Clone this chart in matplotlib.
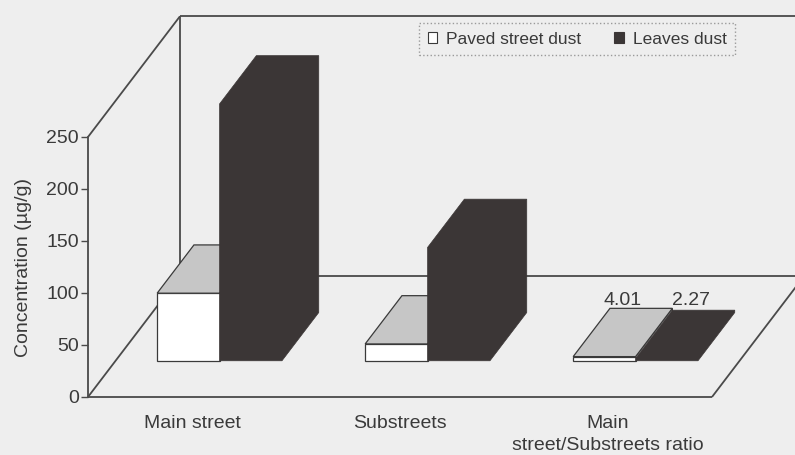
import matplotlib.pyplot as plt
from matplotlib.patches import Polygon, Patch

categories = ['Main street', 'Substreets', 'Main\nstreet/Substreets ratio']
paved_dust = [65.0, 16.2, 4.01]
leaves_dust = [247.0, 109.0, 2.27]
yticks = [0, 50, 100, 150, 200, 250]
series_names = ['Paved street dust', 'Leaves dust']

# oblique "3D" look: how far the back wall sits from the front edge
DEPTH_X = 0.442   # in category units
DEPTH_Y = 116     # in value units
ROW_FRONT, ROW_BACK = 0.3, 0.7

INK = '#3a3a3a'
DARK = '#3b3636'
GREY_TOP = '#c6c6c6'
BG = '#eeeeee'

plt.rcParams['font.family'] = ['Liberation Sans', 'DejaVu Sans']


def proj(x, v, d):
    return (x + d * DEPTH_X, v + d * DEPTH_Y)


def draw_white_box(ax, x0, x1, v, z):
    f, b = ROW_FRONT, ROW_BACK
    faces = [
        ([proj(x1, 0, f), proj(x1, 0, b), proj(x1, v, b), proj(x1, v, f)], 'white'),
        ([proj(x0, 0, f), proj(x1, 0, f), proj(x1, v, f), proj(x0, v, f)], 'white'),
        ([proj(x0, v, f), proj(x1, v, f), proj(x1, v, b), proj(x0, v, b)], GREY_TOP),
    ]
    for pts, col in faces:
        ax.add_patch(Polygon(pts, closed=True, facecolor=col, edgecolor=INK,
                             linewidth=0.9, zorder=z))


def draw_dark_box(ax, x0, x1, v, z):
    # solid block, no shading between faces -> one outline
    f, b = ROW_FRONT, ROW_BACK
    pts = [proj(x0, 0, f), proj(x0, v, f), proj(x0, v, b), proj(x1, v, b),
           proj(x1, 0, b), proj(x1, 0, f)]
    ax.add_patch(Polygon(pts, closed=True, facecolor=DARK, edgecolor=DARK,
                         linewidth=0.5, zorder=z))


fig = plt.figure(figsize=(7.95, 4.55), dpi=100)
fig.patch.set_facecolor(BG)
ax = fig.add_axes([0, 0, 1, 1])
ax.set_facecolor(BG)
ax.set_xlim(-0.423, 3.399)
ax.set_ylim(-55.8, 381.7)

n = len(categories)
ytop = yticks[-1]

# walls and floor
frame = [
    [(0, ytop), proj(0, ytop, 1)],
    [(0, 0), proj(0, 0, 1)],
    [proj(0, 0, 1), proj(0, ytop, 1)],
    [proj(0, ytop, 1), proj(n, ytop, 1)],
    [proj(0, 0, 1), proj(n, 0, 1)],
    [(0, 0), (n, 0)],
    [(n, 0), proj(n, 0, 1)],
]
for (xa, ya), (xb, yb) in frame:
    ax.plot([xa, xb], [ya, yb], color='#4a4a4a', lw=1.3, zorder=1,
            solid_capstyle='butt')

# bars
for i in range(n):
    draw_white_box(ax, i + 0.2, i + 0.5, paved_dust[i], 2 + 2 * i)
    draw_dark_box(ax, i + 0.5, i + 0.8, leaves_dust[i], 3 + 2 * i)

# value labels on the ratio group
ri = n - 1
for xc, val in [(ri + 0.35, paved_dust[ri]), (ri + 0.68, leaves_dust[ri])]:
    lx, ly = proj(xc, val, 0.5)
    ax.text(lx, 4.0 + ROW_BACK * DEPTH_Y + 3, f'{val:.2f}', ha='center',
            va='baseline', fontsize=14, color=INK, zorder=20)

# category labels
for i, lab in enumerate(categories):
    ax.text(i + 0.5, -17, lab, ha='center', va='top', fontsize=14,
            color=INK, linespacing=1.4)

# value axis
for s in ['top', 'right', 'bottom']:
    ax.spines[s].set_visible(False)
ax.spines['left'].set_position(('data', 0))
ax.spines['left'].set_bounds(0, ytop)
ax.spines['left'].set_color('#4a4a4a')
ax.spines['left'].set_linewidth(1.3)
ax.set_xticks([])
ax.set_yticks(yticks)
ax.tick_params(axis='y', length=5, width=1, color='#4a4a4a', pad=1.5,
               labelsize=14, labelcolor=INK)
ax.set_ylabel('Concentration (µg/g)', fontsize=14, color=INK)
ax.yaxis.set_label_coords(0.04, 0.411)

handles = [Patch(facecolor='white', edgecolor=INK, linewidth=0.8),
           Patch(facecolor=DARK, edgecolor=DARK, linewidth=0.8)]
leg = ax.legend(handles, series_names, ncol=2, loc='center',
                bbox_to_anchor=(0.726, 0.914), bbox_transform=fig.transFigure,
                fontsize=12.5, frameon=True, fancybox=False, edgecolor='#9a9a9a',
                facecolor=BG, framealpha=1, handlelength=0.55, handleheight=0.55,
                handletextpad=0.5, columnspacing=1.9, borderpad=0.5)
leg.get_frame().set_linestyle(':')
for t in leg.get_texts():
    t.set_color(INK)

fig.savefig('out.png', dpi=100, facecolor=BG)
